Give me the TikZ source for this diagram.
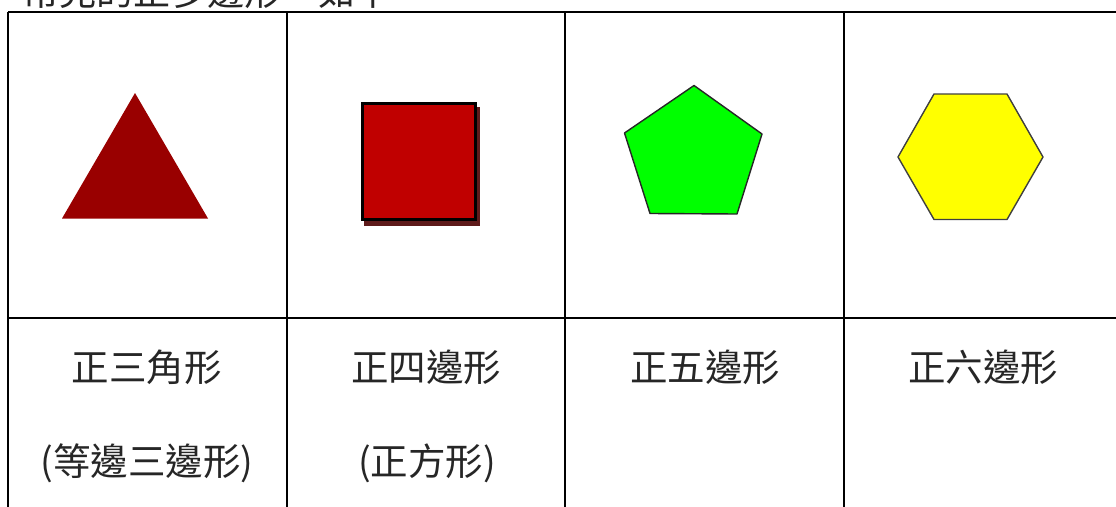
\documentclass[tikz,border=0pt]{standalone}
\usepackage{fontspec}
\newfontfamily\cjk{Noto Sans CJK TC}
\definecolor{tri}{RGB}{153,0,0}
\definecolor{sq}{RGB}{192,0,0}
\definecolor{sqshadow}{RGB}{94,26,26}
\definecolor{pent}{RGB}{0,255,0}
\definecolor{hexa}{RGB}{255,255,0}
\tikzset{
  grid/.style={line width=2pt, black},
  lbl/.style={font=\cjk\fontsize{37.5}{42}\selectfont, inner sep=0pt, text=black!85},
  polyedge/.style={draw=black!85, line width=1.4pt, line join=round}
}
\begin{document}
\begin{tikzpicture}[x=1pt,y=-1pt]
\useasboundingbox (0,0) rectangle (1116,506);
\fill[white] (0,0) rectangle (1116,506);
\clip (0,0) rectangle (1116,506);
% cut-off heading
\node[lbl, font=\cjk\fontsize{37}{42}\selectfont, anchor=base west] (head) at (22,5.5) {常見的正多邊形，如下};
% table grid
\draw[grid] (8,11.5) -- (1120,11.5);
\draw[grid] (8,317.5) -- (1120,317.5);
\draw[grid] (8,11.5) -- (8,510);
\draw[grid] (287,11.5) -- (287,510);
\draw[grid] (565,11.5) -- (565,510);
\draw[grid] (844,11.5) -- (844,510);
% triangle
\fill[tri] (135,93) -- (208,218.5) -- (62,218.5) -- cycle;
% square with shadow
\fill[sqshadow] (364,107) rectangle (480,226);
\fill[sq, draw=black, line width=2.6pt] (362.3,103.3) rectangle (475.7,219.7);
% pentagon
\filldraw[fill=pent, polyedge] (694,85.5) -- (762,134) -- (737,214) -- (650,213.5) -- (624.5,133) -- cycle;
% hexagon
\filldraw[fill=hexa, polyedge, draw=black!75] (934,94) -- (1007,94) -- (1043,157) -- (1007,219.5) -- (934,219.5) -- (898,157) -- cycle;
% labels
\node[lbl] (t1) at (146.5,367.5) {正三角形};
\node[lbl] (t1b) at (147,463) {(等邊三邊形)};
\node[lbl] (t2) at (426,367.5) {正四邊形};
\node[lbl] (t2b) at (427,463) {(正方形)};
\node[lbl] (t3) at (705,367.5) {正五邊形};
\node[lbl] (t4) at (983,367.5) {正六邊形};
\end{tikzpicture}
\end{document}
